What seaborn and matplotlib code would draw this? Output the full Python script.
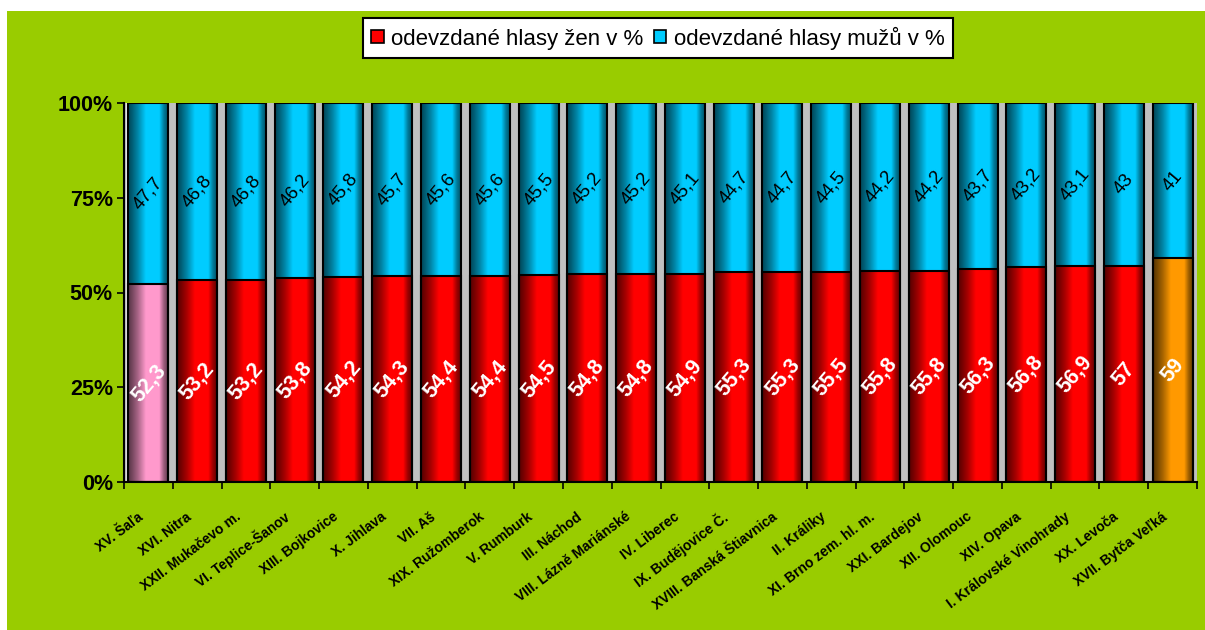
import numpy as np
import pandas as pd
import matplotlib
matplotlib.use("Agg")
import matplotlib.pyplot as plt
from matplotlib.patches import Patch, Rectangle
from matplotlib.collections import PatchCollection
from matplotlib.transforms import ScaledTranslation
import seaborn as sns

# Electoral districts and vote shares (percent)
obvody = [
    "XV. Šaľa", "XVI. Nitra", "XXII. Mukačevo m.", "VI. Teplice-Šanov",
    "XIII. Bojkovice", "X. Jihlava", "VII. Aš", "XIX. Ružomberok",
    "V. Rumburk", "III. Náchod", "VIII. Lázně Mariánské", "IV. Liberec",
    "IX. Budějovice Č.", "XVIII. Banská Štiavnica", "II. Králiky",
    "XI. Brno zem. hl. m.", "XXI. Bardejov", "XII. Olomouc", "XIV. Opava",
    "I. Královské Vinohrady", "XX. Levoča", "XVII. Bytča Veľká",
]
zeny = [52.3, 53.2, 53.2, 53.8, 54.2, 54.3, 54.4, 54.4, 54.5, 54.8, 54.8,
        54.9, 55.3, 55.3, 55.5, 55.8, 55.8, 56.3, 56.8, 56.9, 57, 59]
muzi = [47.7, 46.8, 46.8, 46.2, 45.8, 45.7, 45.6, 45.6, 45.5, 45.2, 45.2,
        45.1, 44.7, 44.7, 44.5, 44.2, 44.2, 43.7, 43.2, 43.1, 43, 41]
y_ticks = [0, 25, 50, 75, 100]
legend_labels = ["odevzdané hlasy žen v %", "odevzdané hlasy mužů v %"]

RED = "#FF0000"
BLUE = "#00CCFF"
PINK = "#FF99CC"
ORANGE = "#FF9900"
GREEN = "#99CC00"
GREY = "#C0C0C0"

df = pd.DataFrame({"obvod": obvody, "zeny": zeny, "muzi": muzi})
df["celkem"] = df["zeny"] + df["muzi"]
women_palette = {o: RED for o in obvody}
women_palette[obvody[0]] = PINK
women_palette[obvody[-1]] = ORANGE

sns.set_theme(style="white")
plt.rcParams["font.family"] = ["Liberation Sans", "DejaVu Sans"]
plt.rcParams["text.color"] = "black"
plt.rcParams["xtick.color"] = "black"
plt.rcParams["ytick.color"] = "black"
plt.rcParams["axes.labelcolor"] = "black"

DPI = 100
fig = plt.figure(figsize=(12.05, 6.3), dpi=DPI)
fig.patch.set_facecolor("white")
# green chart area behind everything
bg = Rectangle((7 / 1205, 0), 1 - 7 / 1205, (630 - 11) / 630,
               transform=fig.transFigure, facecolor=GREEN, edgecolor="none")
bg.set_zorder(-10)
fig.add_artist(bg)

ax = fig.add_axes([124 / 1205, (630 - 482) / 630, (1197 - 124) / 1205,
                   (482 - 103) / 630])
ax.set_facecolor(GREY)

W = 0.82
sns.barplot(data=df, x="obvod", y="celkem", color=BLUE, width=W, ax=ax,
            edgecolor="black", linewidth=1.5, saturation=1, errorbar=None)
sns.barplot(data=df, x="obvod", y="zeny", hue="obvod", palette=women_palette,
            legend=False, width=W, ax=ax, edgecolor="black", linewidth=1.5,
            saturation=1, errorbar=None)

# shading profile across a bar: dark edges, bright just right of centre
N_SLICES = 40
t = (np.arange(N_SLICES) + 0.5) / N_SLICES
profile = np.interp(t, [0, 0.1, 0.25, 0.45, 0.78, 0.9, 1.0],
                    [0.33, 0.45, 0.66, 1.0, 1.0, 0.6, 0.4])

n = len(obvody)
bars = [p for c in ax.containers for p in c]
for k, p in enumerate(bars):
    x0, y0 = p.get_xy()
    w, h = p.get_width(), p.get_height()
    base = np.array(matplotlib.colors.to_rgb(p.get_facecolor()))
    dw = w / N_SLICES
    slices = [Rectangle((x0 + j * dw, y0), dw * 1.02, h) for j in range(N_SLICES)]
    cols = np.clip(base[None, :] * profile[:, None], 0, 1)
    pc = PatchCollection(slices, facecolors=cols, edgecolors="none",
                         linewidths=0, antialiased=False,
                         zorder=2 + (0.5 if k >= n else 0))
    ax.add_collection(pc)
    p.set_fill(False)
    p.set_zorder(3)

ax.set_xlim(-0.5, n - 0.5)
ax.set_ylim(0, 100)

# light wall edge just inside the value axis
wall = ax.get_xaxis_transform() + ScaledTranslation(3 / DPI, 0, fig.dpi_scale_trans)
ax.plot([-0.5, -0.5], [0, 1], transform=wall, color="#EDEDED", lw=1.5,
        zorder=1.5, solid_capstyle="butt")

# value labels
fmt = lambda v: f"{v:g}".replace(".", ",")
for i, (z, m) in enumerate(zip(zeny, muzi)):
    ax.text(i, z / 2, fmt(z), rotation=50, ha="center", va="center",
            color="white", fontsize=15.5, fontweight="bold", zorder=5,
            rotation_mode="anchor")
    ax.text(i, z + m / 2, fmt(m), rotation=50, ha="center", va="center",
            color="black", fontsize=13.5, zorder=5, rotation_mode="anchor")

# axes styling
for s in ["top", "right"]:
    ax.spines[s].set_visible(False)
for s in ["left", "bottom"]:
    ax.spines[s].set_color("black")
    ax.spines[s].set_linewidth(1.5)
    ax.spines[s].set_zorder(4)

ax.set_yticks(y_ticks)
ax.set_yticklabels([f"{v}%" for v in y_ticks], fontsize=15.5, fontweight="bold")
ax.tick_params(axis="y", left=True, length=5, width=1.2, color="black",
               pad=3, direction="out")

ax.set_xticks(range(n))
ax.set_xticks(np.arange(-0.5, n, 1.0), minor=True)
ax.tick_params(axis="x", which="major", bottom=True, length=0, pad=24)
ax.tick_params(axis="x", which="minor", bottom=True, length=5, width=1.2,
               color="black", direction="out")
ax.set_xticklabels(obvody, rotation=37, ha="right", va="center",
                   rotation_mode="anchor", fontsize=10, fontweight="bold")
shift = ScaledTranslation(-7 / DPI, 0, fig.dpi_scale_trans)
for lab in ax.get_xticklabels():
    lab.set_transform(lab.get_transform() + shift)
ax.set_xlabel("")
ax.set_ylabel("")

handles = [Patch(facecolor=RED, edgecolor="black", linewidth=1.2),
           Patch(facecolor=BLUE, edgecolor="black", linewidth=1.2)]
leg = fig.legend(handles, legend_labels, loc="center",
                 bbox_to_anchor=(658 / 1205, 1 - 38 / 630), ncol=2,
                 fontsize=16, frameon=True, fancybox=False,
                 edgecolor="black", facecolor="white", framealpha=1,
                 handlelength=0.55, handleheight=0.55, handletextpad=0.35,
                 columnspacing=0.45, borderpad=0.4, borderaxespad=0)
leg.get_frame().set_linewidth(1.5)

fig.savefig("out.png", dpi=DPI, facecolor="white")
